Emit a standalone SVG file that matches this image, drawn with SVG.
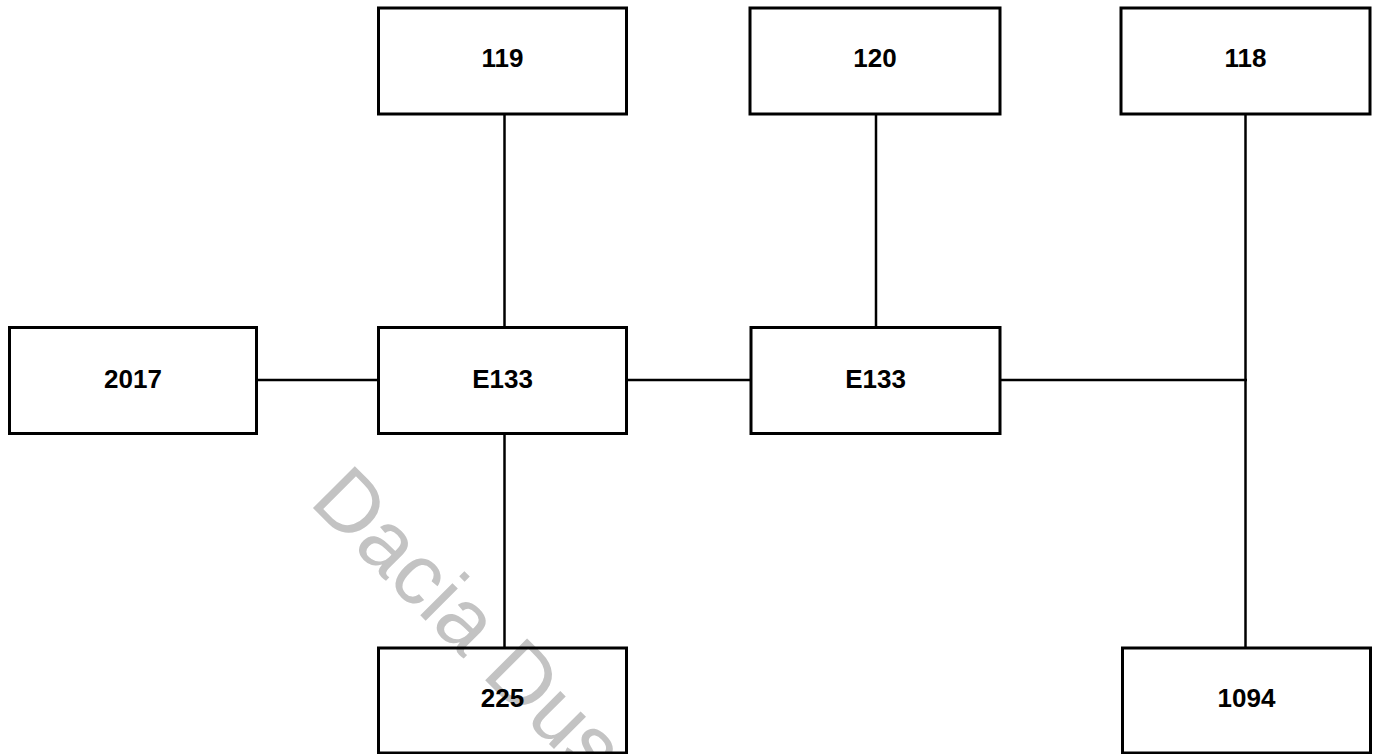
<svg xmlns="http://www.w3.org/2000/svg" width="1376" height="754" viewBox="0 0 1376 754">
<style>
.box{fill:none;stroke:#000;stroke-width:3}
.lbl{font-family:"Liberation Sans",Arial,sans-serif;font-weight:bold;font-size:26px;fill:#000;text-anchor:middle}
.wm{font-family:"Liberation Sans",Arial,sans-serif;font-size:86px;fill:#c3c3c3}
#connectors line{stroke:#000;stroke-width:2.5}
</style>
<rect x="0" y="0" width="1376" height="754" fill="#fff"/>
<text class="wm" transform="translate(308,503) rotate(45)">Dacia Dus</text>
<g id="connectors">
<line x1="504.5" y1="114" x2="504.5" y2="328"/>
<line x1="504.5" y1="434" x2="504.5" y2="648"/>
<line x1="257" y1="380" x2="378.5" y2="380"/>
<line x1="627" y1="380" x2="751" y2="380"/>
<line x1="876" y1="114" x2="876" y2="328"/>
<line x1="1001" y1="380" x2="1247" y2="380"/>
<line x1="1245.5" y1="114" x2="1245.5" y2="648"/>
</g>
<g id="n119"><rect class="box" x="378.5" y="8" width="248" height="106"/><text class="lbl" x="502.5" y="67">119</text></g>
<g id="n120"><rect class="box" x="750" y="8" width="250" height="106"/><text class="lbl" x="875" y="67">120</text></g>
<g id="n118"><rect class="box" x="1121" y="8" width="249" height="106"/><text class="lbl" x="1245.5" y="67">118</text></g>
<g id="n2017"><rect class="box" x="9.5" y="327.5" width="247" height="106"/><text class="lbl" x="133" y="388">2017</text></g>
<g id="nE133a"><rect class="box" x="378.5" y="327.5" width="248" height="106"/><text class="lbl" x="502.5" y="388">E133</text></g>
<g id="nE133b"><rect class="box" x="751" y="327.5" width="249" height="106"/><text class="lbl" x="875.5" y="388">E133</text></g>
<g id="n225"><rect class="box" x="378.5" y="648" width="248" height="105"/><text class="lbl" x="502.5" y="707">225</text></g>
<g id="n1094"><rect class="box" x="1122.5" y="648" width="248" height="105"/><text class="lbl" x="1246.5" y="707">1094</text></g>
</svg>
